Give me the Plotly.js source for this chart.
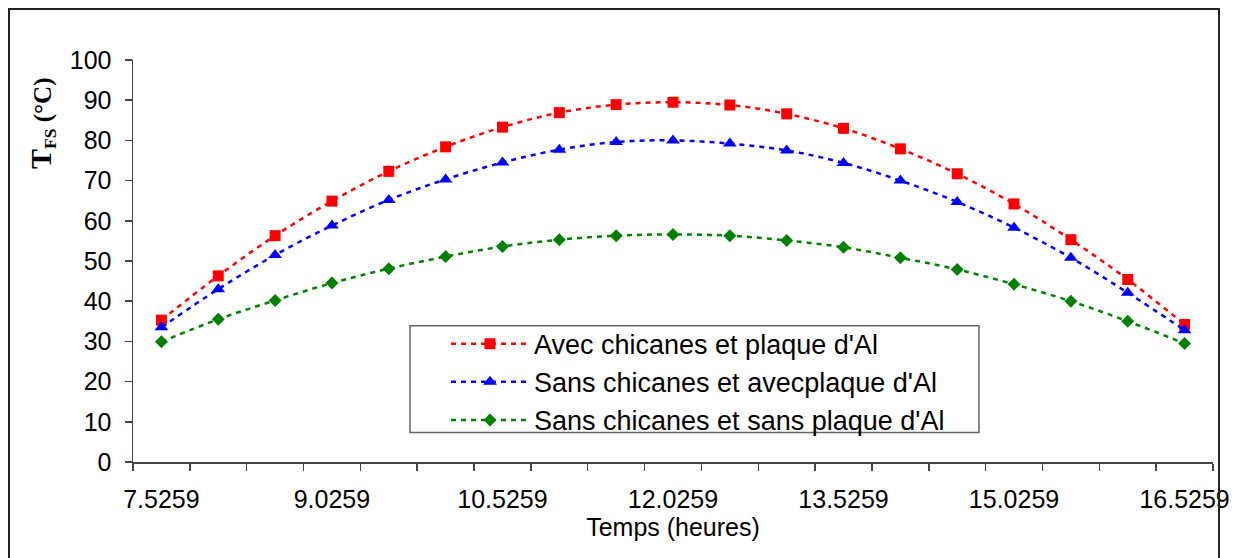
<!DOCTYPE html>
<html>
<head>
<meta charset="utf-8">
<script src="https://cdn.plot.ly/plotly-3.0.1.min.js"></script>
<style>
  html, body { margin: 0; padding: 0; background: #fff; }
  #wrap { position: relative; width: 1242px; height: 558px; overflow: hidden; }
  #chart { width: 1242px; height: 558px; }
  #frame { position: absolute; left: 8px; top: 8px; width: 1208px; height: 620px;
           border: 2px solid #222; pointer-events: none; }
</style>
</head>
<body>
<div id="wrap">
  <div id="chart"></div>
  <div id="frame"></div>
</div>
<script>
// Time (hours)
const hours = [7.5259, 8.0259, 8.5259, 9.0259, 9.5259, 10.0259, 10.5259, 11.0259, 11.5259, 12.0259,
               12.5259, 13.0259, 13.5259, 14.0259, 14.5259, 15.0259, 15.5259, 16.0259, 16.5259];
// Series
const avecChicanesAl = [35.3, 46.3, 56.3, 64.9, 72.3, 78.4, 83.3, 86.9, 88.9, 89.5,
                        88.8, 86.6, 83.0, 77.9, 71.7, 64.2, 55.3, 45.4, 34.2];
const sansChicanesAvecAl = [33.5, 43.0, 51.5, 58.8, 65.2, 70.3, 74.5, 77.7, 79.6, 80.0,
                            79.2, 77.5, 74.4, 70.0, 64.7, 58.3, 50.8, 42.1, 32.8];
const sansChicanesSansAl = [29.9, 35.5, 40.2, 44.5, 48.1, 51.1, 53.6, 55.3, 56.3, 56.6,
                            56.3, 55.1, 53.4, 50.8, 47.9, 44.2, 40.0, 35.0, 29.5];
const seriesNames = ["Avec chicanes et plaque d'Al", "Sans chicanes et avecplaque d'Al", "Sans chicanes et sans plaque d'Al"];
// Tick labels
const xTickVals = [7.5259, 9.0259, 10.5259, 12.0259, 13.5259, 15.0259, 16.5259];
const xTickText = ["7.5259", "9.0259", "10.5259", "12.0259", "13.5259", "15.0259", "16.5259"];
const yTickVals = [0, 10, 20, 30, 40, 50, 60, 70, 80, 90, 100];

function mk(y, name, color, symbol, size) {
  return {
    x: hours, y: y, name: name, type: 'scatter', mode: 'lines+markers',
    line: { color: color, width: 2.5, dash: '5px,5px', shape: 'spline', smoothing: 1 },
    marker: { color: color, symbol: symbol, size: size }
  };
}

const traces = [
  mk(avecChicanesAl, seriesNames[0], '#FF0000', 'square', 11),
  mk(sansChicanesAvecAl, seriesNames[1], '#0000FF', 'triangle-up', 12),
  mk(sansChicanesSansAl, seriesNames[2], '#008000', 'diamond', 10)
];

const font = { family: 'Liberation Sans, Arial, sans-serif', size: 25, color: '#000' };

// plot area: x 133..1213 px, y 60..462.5 px
const px = v => (v - 133) / 1080;
const py = v => (462.5 - v) / 402.5;

const layout = {
  width: 1242, height: 558,
  margin: { l: 133, r: 29, t: 60, b: 96, pad: 0 },
  paper_bgcolor: '#fff', plot_bgcolor: '#fff',
  font: font,
  showlegend: true,
  legend: {
    x: px(410), y: py(320), xanchor: 'left', yanchor: 'top',
    bgcolor: 'rgba(0,0,0,0)', borderwidth: 0,
    font: { family: 'Liberation Sans, Arial, sans-serif', size: 27, color: '#000' },
    indentation: 36, itemwidth: 78, tracegroupgap: 0
  },
  shapes: [{
    type: 'rect', xref: 'paper', yref: 'paper', layer: 'above',
    x0: px(410), x1: px(979), y0: py(326), y1: py(433),
    fillcolor: '#fff', line: { color: '#666', width: 1.5 }
  }],
  xaxis: {
    range: [7.2759, 16.7759],
    tickmode: 'array', tickvals: xTickVals, ticktext: xTickText,
    ticks: '', showgrid: false, zeroline: false,
    showline: true, linecolor: '#444', linewidth: 1.5,
    tickfont: font, ticklabelstandoff: 14,
    minor: { tick0: 7.2759, dtick: 0.5, ticks: 'outside', ticklen: 7, tickwidth: 1.5, tickcolor: '#444', showgrid: false },
    title: { text: 'Temps (heures)', font: font, standoff: 2 }
  },
  yaxis: {
    range: [0, 100],
    tickmode: 'array', tickvals: yTickVals,
    ticks: 'outside', ticklen: 7, tickwidth: 1.5, tickcolor: '#444',
    showgrid: false, zeroline: false,
    showline: true, linecolor: '#444', linewidth: 1.5,
    tickfont: font, ticklabelstandoff: 8
  },
  annotations: [{
    xref: 'paper', yref: 'paper',
    x: px(42), y: py(124),
    xanchor: 'center', yanchor: 'middle',
    textangle: -90, showarrow: false,
    text: '<b><span style="font-size:30px">T</span><sub>FS</sub> (°C)</b>',
    font: { family: 'Liberation Serif, Times New Roman, serif', size: 25, color: '#000' }
  }]
};

Plotly.newPlot('chart', traces, layout, { displayModeBar: false, staticPlot: true });
</script>
</body>
</html>
